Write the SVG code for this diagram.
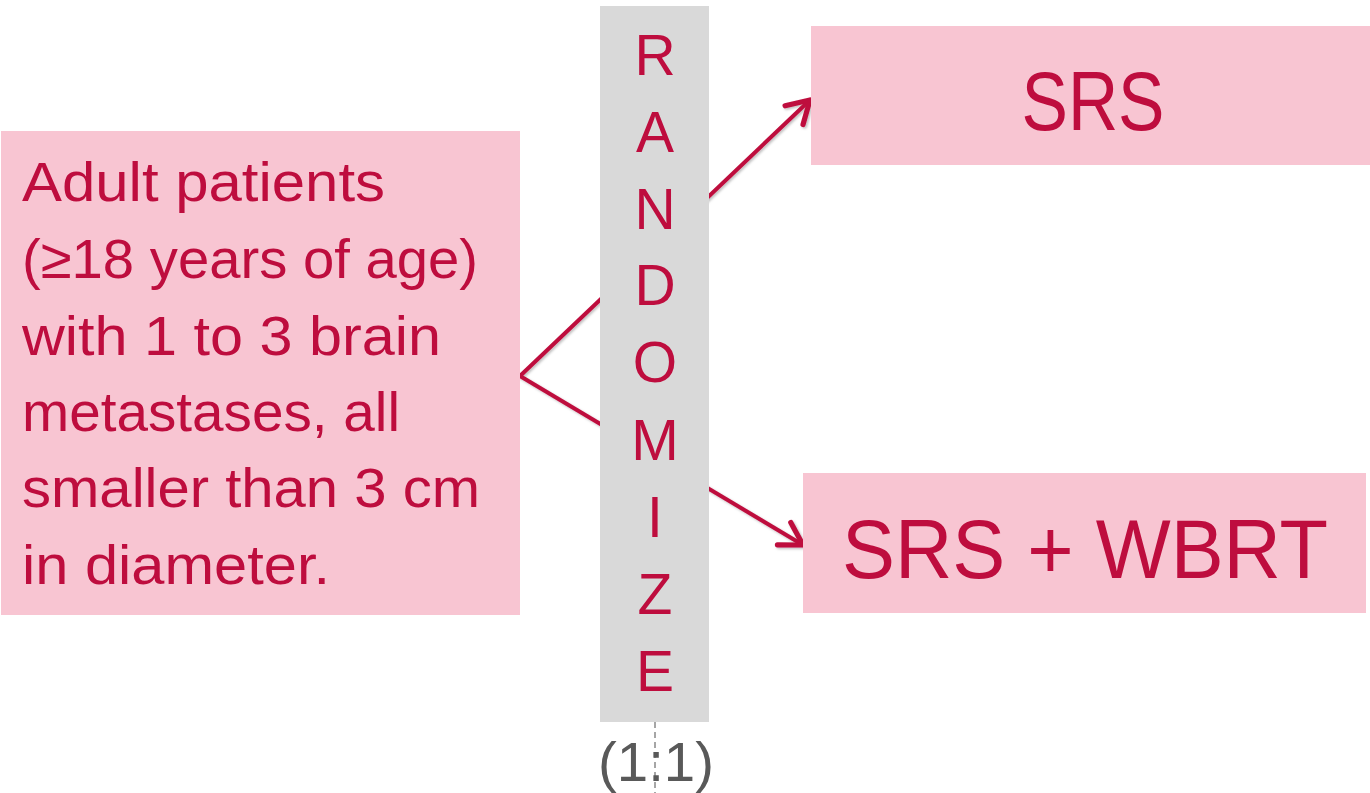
<svg xmlns="http://www.w3.org/2000/svg" width="1370" height="793" viewBox="0 0 1370 793">
  <style>
    .box { fill: #F8C5D2; }
    .bar { fill: #D9D9D9; }
    .txt { font-family: "Liberation Sans", "Open Sans", sans-serif; fill: #BE0D3E; }
    .body { font-size: 56px; }
    .big { font-size: 84px; text-anchor: middle; }
    .letter { font-size: 57px; text-anchor: middle; }
    .ratio { font-family: "Liberation Sans", "Open Sans", sans-serif; fill: #595959; font-size: 56px; text-anchor: middle; }
    .conn { stroke: #BE0D3E; stroke-width: 4; fill: none; stroke-linecap: round; stroke-linejoin: round; }
  </style>
  <defs>
    <marker id="arrow" viewBox="0 0 20 20" refX="17" refY="10" markerWidth="10" markerHeight="10" markerUnits="strokeWidth" orient="auto">
      <path d="M6,3.5 L17,10 L6,16.5" fill="none" stroke="#BE0D3E" stroke-width="2.6" stroke-linecap="round" stroke-linejoin="round"/>
    </marker>
    <filter id="shadow" x="-10%" y="-10%" width="120%" height="120%">
      <feDropShadow dx="1.5" dy="1.5" stdDeviation="1.2" flood-color="#000" flood-opacity="0.25"/>
    </filter>
  </defs>

  <rect width="1370" height="793" fill="#FFFFFF"/>

  <!-- connectors: drawn first so the randomize bar covers them -->
  <g id="connectors" filter="url(#shadow)">
    <path class="conn" d="M520,376 L810,100" marker-end="url(#arrow)"/>
    <path class="conn" d="M520,376 L803,545" marker-end="url(#arrow)"/>
  </g>

  <!-- eligibility -->
  <g id="node-patients">
    <rect class="box" x="1" y="131" width="519" height="484"/>
    <text class="txt body" x="22" y="201" textLength="363" lengthAdjust="spacingAndGlyphs">Adult patients</text>
    <text class="txt body" x="22" y="278" textLength="456" lengthAdjust="spacingAndGlyphs">(≥18 years of age)</text>
    <text class="txt body" x="22" y="355" textLength="419" lengthAdjust="spacingAndGlyphs">with 1 to 3 brain</text>
    <text class="txt body" x="22" y="431" textLength="378" lengthAdjust="spacingAndGlyphs">metastases, all</text>
    <text class="txt body" x="22" y="507" textLength="458" lengthAdjust="spacingAndGlyphs">smaller than 3 cm</text>
    <text class="txt body" x="22" y="584" textLength="308" lengthAdjust="spacingAndGlyphs">in diameter.</text>
  </g>

  <!-- randomization bar -->
  <g id="node-randomize">
    <rect class="bar" x="600" y="6" width="109" height="716"/>
    <text class="txt letter" x="655" y="75">R</text>
    <text class="txt letter" x="655" y="152">A</text>
    <text class="txt letter" x="655" y="229">N</text>
    <text class="txt letter" x="655" y="305">D</text>
    <text class="txt letter" x="655" y="382">O</text>
    <text class="txt letter" x="655" y="460">M</text>
    <text class="txt letter" x="655" y="537">I</text>
    <text class="txt letter" x="655" y="614">Z</text>
    <text class="txt letter" x="655" y="691">E</text>
  </g>

  <g id="node-ratio">
    <line x1="655" y1="722" x2="655" y2="793" stroke="#A6A6A6" stroke-width="2" stroke-dasharray="6 4"/>
    <text class="ratio" x="656" y="781" textLength="116" lengthAdjust="spacingAndGlyphs">(1:1)</text>
  </g>

  <!-- treatment arms -->
  <g id="node-srs">
    <rect class="box" x="811" y="26" width="559" height="139"/>
    <text class="txt big" x="1093" y="130" textLength="143" lengthAdjust="spacingAndGlyphs">SRS</text>
  </g>

  <g id="node-srs-wbrt">
    <rect class="box" x="803" y="473" width="563" height="140"/>
    <text class="txt big" x="1085" y="578" textLength="486" lengthAdjust="spacingAndGlyphs">SRS + WBRT</text>
  </g>
</svg>
